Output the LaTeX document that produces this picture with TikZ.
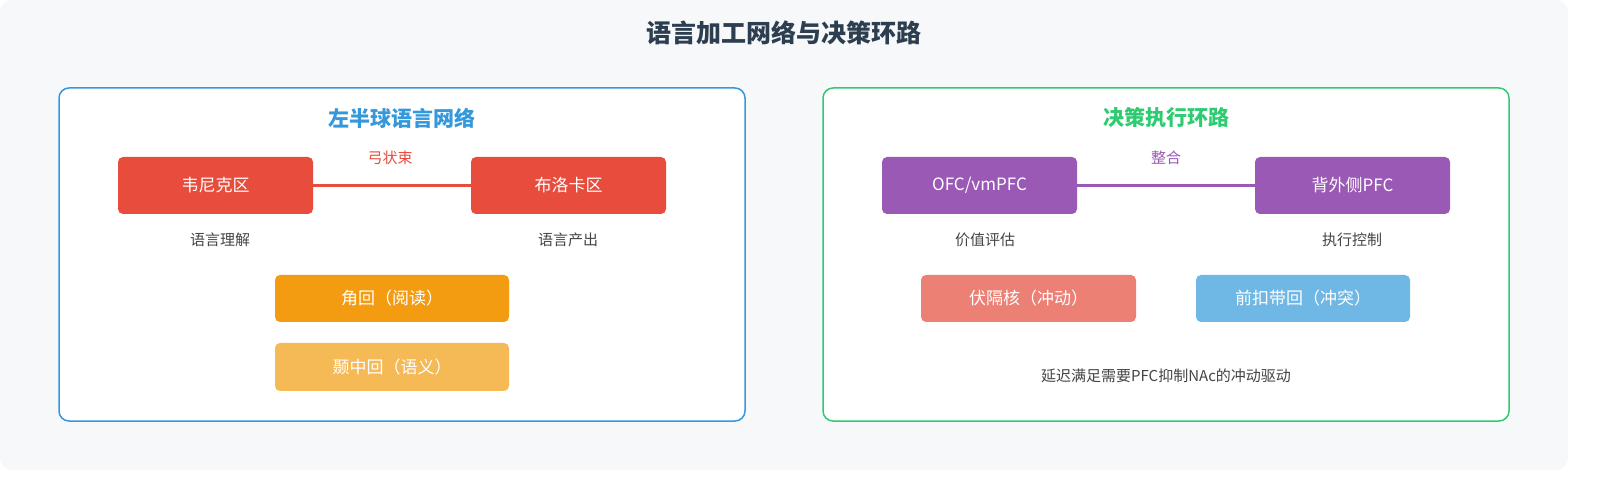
\documentclass[tikz,border=0pt]{standalone}
\usepackage{fontspec}
\setmainfont{Noto Sans CJK SC}
\begin{document}
\definecolor{bg}{HTML}{F7F8FA}
\definecolor{tt}{HTML}{2C3E50}
\definecolor{bl}{HTML}{3498DB}
\definecolor{gr}{HTML}{2ECC71}
\definecolor{rd}{HTML}{E74C3C}
\definecolor{pu}{HTML}{9B59B6}
\definecolor{og}{HTML}{F39C12}
\definecolor{lo}{HTML}{F5B955}
\definecolor{sa}{HTML}{EC8075}
\definecolor{lb}{HTML}{6FB7E4}
\definecolor{gy}{HTML}{444444}
\begin{tikzpicture}[x=0.5pt,y=-0.5pt,
  box/.style={rounded corners=2.5pt,text=white,font=\fontsize{8.5}{10}\selectfont,inner sep=0},
  lab/.style={text=gy,font=\fontsize{7.5}{9}\selectfont},
  panel/.style={fill=white,line width=0.75pt,rounded corners=5pt}]
\useasboundingbox (0,0) rectangle (1600,480);
\fill[bg,rounded corners=6pt] (0,0) rectangle (1568,470);
\node[text=tt,font=\bfseries\fontsize{12.5}{15}\selectfont] (title) at (784,33) {语言加工网络与决策环路};
\draw[panel,draw=bl] (59,88) rectangle (745,421);
\draw[panel,draw=gr] (823,88) rectangle (1509,421);
\node[text=bl,font=\bfseries\fontsize{10.5}{13}\selectfont] (lt) at (402,118) {左半球语言网络};
\node[text=gr,font=\bfseries\fontsize{10.5}{13}\selectfont] (rt) at (1166,118) {决策执行环路};
% left
\node[box,fill=rd,minimum width=97.5pt,minimum height=28.5pt] (w) at (215.5,185.5) {韦尼克区};
\node[box,fill=rd,minimum width=97.5pt,minimum height=28.5pt] (b) at (568.5,185.5) {布洛卡区};
\draw[rd,line width=1.5pt] (w) -- (b);
\node[text=rd,font=\fontsize{7.5}{9}\selectfont] (af) at (390,158) {弓状束};
\node[lab] (l1) at (220,240) {语言理解};
\node[lab] (l2) at (568,240) {语言产出};
\node[box,fill=og,minimum width=117pt,minimum height=23.5pt] (ag) at (392,298.5) {角回（阅读）};
\node[box,fill=lo,minimum width=117pt,minimum height=24pt] (mt) at (392,367) {颞中回（语义）};
% right
\node[box,fill=pu,minimum width=97.5pt,minimum height=28.5pt] (o) at (979.5,185.5) {OFC/vmPFC};
\node[box,fill=pu,minimum width=97.5pt,minimum height=28.5pt] (d) at (1352.5,185.5) {背外侧PFC};
\draw[pu,line width=1.5pt] (o) -- (d);
\node[text=pu,font=\fontsize{7.5}{9}\selectfont] (ig) at (1166,158) {整合};
\node[lab] (r1) at (985,240) {价值评估};
\node[lab] (r2) at (1352,240) {执行控制};
\node[box,fill=sa,minimum width=107.5pt,minimum height=23.5pt] (na) at (1028.5,298.5) {伏隔核（冲动）};
\node[box,fill=lb,minimum width=107pt,minimum height=23.5pt] (ac) at (1303,298.5) {前扣带回（冲突）};
\node[lab] (nt) at (1166,376) {延迟满足需要PFC抑制NAc的冲动驱动};
\end{tikzpicture}
\end{document}
